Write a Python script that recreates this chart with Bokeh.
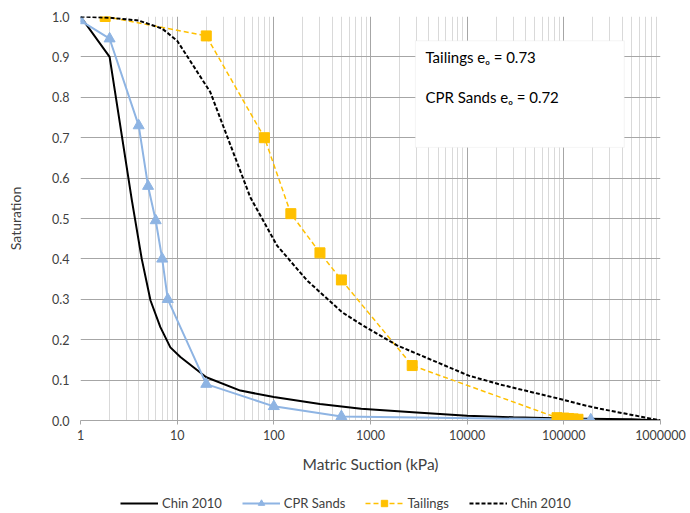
from bokeh.plotting import figure
from bokeh.layouts import column
from bokeh.models import (Range1d, FixedTicker, NumeralTickFormatter, Legend, LegendItem,
                          BoxAnnotation, Label)
from bokeh.embed import file_html
from bokeh.resources import INLINE

# ---------------- data ----------------
chin_solid_x = [1, 2, 3.4, 4.3, 5.3, 6.7, 8.5, 10.8, 20, 45, 100, 300, 800, 3000, 10000,
                30000, 100000, 500000, 1000000]
chin_solid_y = [1.0, 0.90, 0.545, 0.40, 0.297, 0.231, 0.181, 0.157, 0.107, 0.074, 0.058,
                0.041, 0.029, 0.020, 0.012, 0.008, 0.005, 0.003, 0.0]

cpr_x = [1, 2, 4, 5, 6, 7, 8, 20, 100, 500, 190000]
cpr_y = [0.99, 0.945, 0.73, 0.58, 0.495, 0.40, 0.30, 0.09, 0.035, 0.01, 0.002]

tail_x = [1.8, 20, 80, 150, 300, 500, 2700, 85000, 100000, 112000, 125000, 140000]
tail_y = [1.0, 0.952, 0.70, 0.512, 0.415, 0.348, 0.136, 0.007, 0.006, 0.005, 0.004, 0.003]

chin_dash_x = [1, 2, 4, 7, 10, 22, 57, 108, 220, 508, 787, 1880, 10400, 22000, 100000,
               148000, 238000, 1000000]
chin_dash_y = [1.0, 0.997, 0.99, 0.97, 0.94, 0.813, 0.553, 0.433, 0.347, 0.268, 0.239,
               0.186, 0.111, 0.089, 0.051, 0.040, 0.029, 0.0]

x_ticks = [1, 10, 100, 1000, 10000, 100000, 1000000]
y_ticks = [0.0, 0.1, 0.2, 0.3, 0.4, 0.5, 0.6, 0.7, 0.8, 0.9, 1.0]
series_names = ["Chin 2010", "CPR Sands", "Tailings", "Chin 2010"]
notes = ["Tailings e\u2092 = 0.73", "CPR Sands e\u2092 = 0.72"]

# ---------------- styling ----------------
FONT = "Lato"
TXT = "#404040"
BLUE = "#8EB4E3"
YELLOW = "#FFC000"
STYLES = [
    dict(line_color="black", line_width=2),
    dict(line_color=BLUE, line_width=2),
    dict(line_color=YELLOW, line_width=1.5, line_dash="5 3"),
    dict(line_color="black", line_width=2, line_dash="4 2"),
]
TRI = dict(marker="triangle", size=11, fill_color=BLUE, line_color=BLUE)
SQ = dict(marker="square", size=10, fill_color=YELLOW, line_color=YELLOW)

minor = [m * d for d in x_ticks[:-1] for m in range(2, 10)]

p = figure(width=690, height=485, x_axis_type="log",
           x_range=Range1d(1, 1000000), y_range=Range1d(0, 1.0),
           output_backend="svg", toolbar_location=None,
           min_border_left=80, min_border_right=30, min_border_top=16, min_border_bottom=65)
p.outline_line_color = None
p.background_fill_color = "white"

p.xaxis.ticker = FixedTicker(ticks=x_ticks, minor_ticks=minor)
p.xaxis.formatter = NumeralTickFormatter(format="0")
p.yaxis.ticker = FixedTicker(ticks=y_ticks)
p.yaxis.formatter = NumeralTickFormatter(format="0.0")

for ax in (p.xaxis[0], p.yaxis[0]):
    ax.major_label_text_font = FONT
    ax.major_label_text_font_size = "12.5px"
    ax.major_label_text_color = TXT
    ax.axis_label_text_font = FONT
    ax.axis_label_text_color = TXT
    ax.axis_label_text_font_style = "normal"
    ax.minor_tick_line_color = None
    ax.major_tick_in = 0

p.xaxis.axis_label = "Matric Suction (kPa)"
p.yaxis.axis_label = "Saturation"
p.xaxis.axis_label_text_font_size = "15.5px"
p.yaxis.axis_label_text_font_size = "14px"
p.xaxis.axis_line_color = "#A6A6A6"
p.xaxis.major_tick_line_color = "#A6A6A6"
p.xaxis.major_tick_out = 4
p.xaxis.major_label_standoff = 5
p.xaxis.axis_label_standoff = 12
p.yaxis.axis_line_color = None
p.yaxis.major_tick_line_color = None
p.yaxis.major_tick_out = 4
p.yaxis.major_label_standoff = 7
p.yaxis.axis_label_standoff = 25

p.xgrid.grid_line_color = "#A6A6A6"
p.xgrid.minor_grid_line_color = "#D9D9D9"
p.ygrid.grid_line_color = "#A6A6A6"

# ---------------- series ----------------
p.line(chin_solid_x, chin_solid_y, **STYLES[0])
p.line(cpr_x, cpr_y, **STYLES[1])
p.scatter(cpr_x, cpr_y, **TRI)
p.line(tail_x, tail_y, **STYLES[2])
p.scatter(tail_x, tail_y, **SQ)
p.line(chin_dash_x, chin_dash_y, **STYLES[3])

# ---------------- annotation box ----------------
box = BoxAnnotation(left=2912, right=422000, top=0.94, bottom=0.676,
                    fill_color="white", fill_alpha=1.0, line_color="#D9D9D9", line_width=1)
p.add_layout(box)
for txt, yy in zip(notes, [0.899, 0.80]):
    p.add_layout(Label(x=3700, y=yy, text=txt, text_baseline="middle",
                       text_font=FONT, text_font_size="15px", text_color="black"))

# ---------------- legend strip (separate small canvas below the chart) ----------------
# same series drawn into a strip whose ranges show none of them; only the legend is visible
lg = figure(width=690, height=28, x_range=Range1d(-2, -1), y_range=Range1d(-2, -1),
            output_backend="svg", toolbar_location=None,
            x_axis_location=None, y_axis_location=None, min_border=0)
lg.outline_line_color = None
lg.grid.visible = False
k1 = lg.line(chin_solid_x, chin_solid_y, **STYLES[0])
k2l = lg.line(cpr_x, cpr_y, **STYLES[1])
k2m = lg.scatter(cpr_x, cpr_y, **TRI)
k3l = lg.line(tail_x, tail_y, **STYLES[2])
k3m = lg.scatter(tail_x, tail_y, **SQ)
k4 = lg.line(chin_dash_x, chin_dash_y, **STYLES[3])

legend = Legend(items=[
    LegendItem(label=series_names[0], renderers=[k1]),
    LegendItem(label=series_names[1], renderers=[k2l, k2m]),
    LegendItem(label=series_names[2], renderers=[k3l, k3m]),
    LegendItem(label=series_names[3], renderers=[k4]),
], location=(40, 2), orientation="horizontal")
legend.background_fill_alpha = 0
legend.border_line_color = None
legend.padding = 0
legend.margin = 0
legend.glyph_width = 38
legend.glyph_height = 16
legend.label_height = 16
legend.label_standoff = 4
legend.spacing = 20
legend.label_text_font = FONT
legend.label_text_font_size = "13px"
legend.label_text_color = TXT
lg.add_layout(legend)

layout = column(p, lg, spacing=0)
open("out.html", "w").write(file_html(layout, INLINE))
